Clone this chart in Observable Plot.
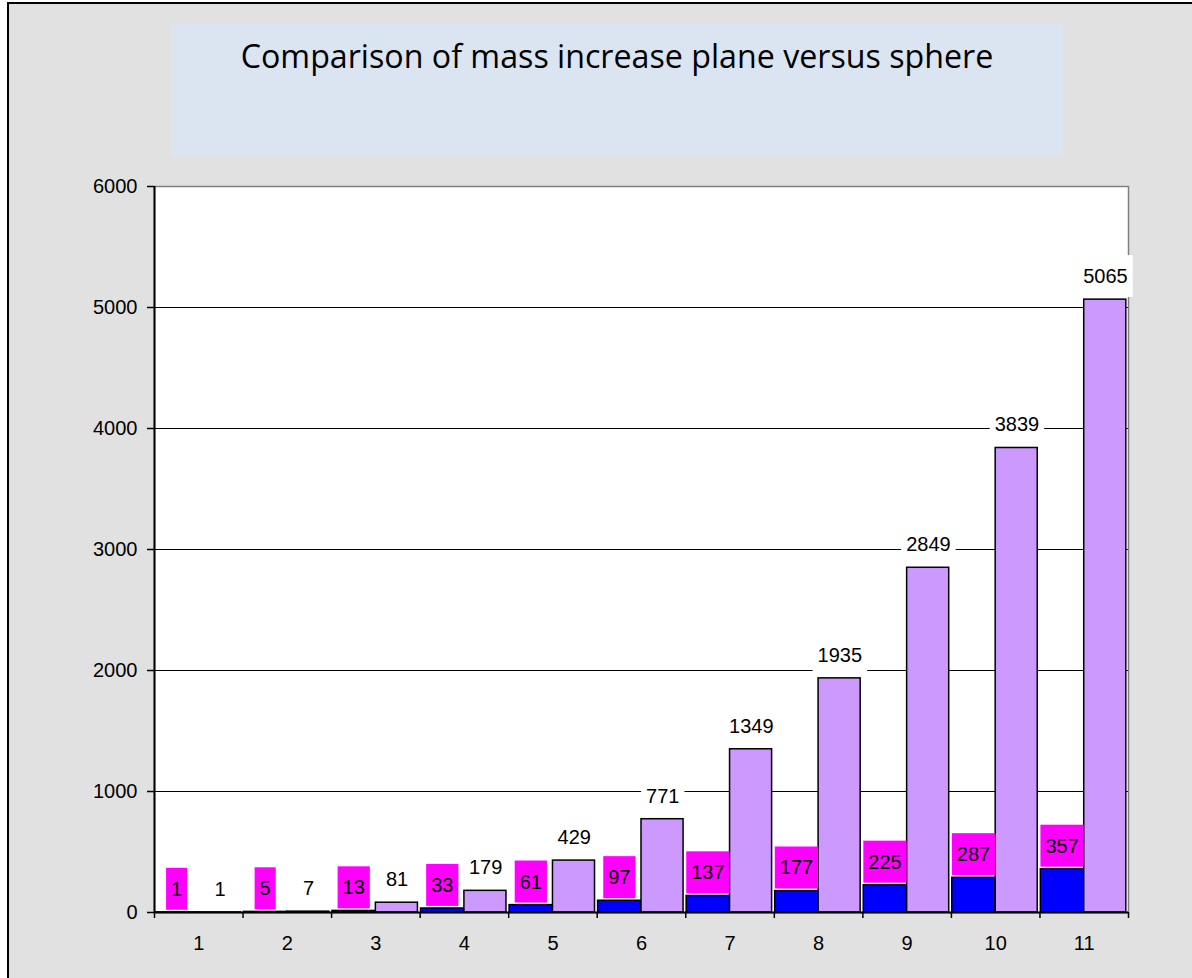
<!DOCTYPE html>
<html>
<head>
<meta charset="utf-8">
<script src="https://cdn.jsdelivr.net/npm/d3@7"></script>
<script src="https://cdn.jsdelivr.net/npm/@observablehq/plot@0.6"></script>
<style>
  body { margin: 0; background: #ffffff; }
  #page { position: relative; width: 1192px; height: 978px; overflow: hidden; }
  #panel {
    position: absolute; left: 7px; top: 2px; width: 1300px; height: 1100px;
    background: #e1e1e1; border-top: 2px solid #000; border-left: 2px solid #000;
  }
  #titlebox {
    position: absolute; left: 171px; top: 24px; width: 892px; height: 132px;
    background: #dbe5f1;
  }
  #title {
    position: absolute; left: 171px; top: 40px; width: 892px; text-align: center;
    font-family: "Open Sans", "Noto Sans", sans-serif; font-size: 32.2px; line-height: 32px;
    color: #000; white-space: nowrap;
  }
  #chart { position: absolute; left: 0; top: 0; }
</style>
</head>
<body>
<div id="page">
  <div id="panel"></div>
  <div id="titlebox"></div>
  <div id="title">Comparison of mass increase plane versus sphere</div>
  <div id="chart"></div>
</div>
<script>
// Step number and the mass reached by the plane and by the sphere
const categories = [1, 2, 3, 4, 5, 6, 7, 8, 9, 10, 11];
const plane = [1, 5, 13, 33, 61, 97, 137, 177, 225, 287, 357];
const sphere = [1, 7, 81, 179, 429, 771, 1349, 1935, 2849, 3839, 5065];
const yTicks = [0, 1000, 2000, 3000, 4000, 5000, 6000];

const rows = categories.map((c, i) => ({cat: c, plane: plane[i], sphere: sphere[i]}));
// band boundaries between the steps, where the x tick marks sit
const edges = [...categories.map(c => c - 0.5), categories[categories.length - 1] + 0.5];

const font = "'Liberation Sans', Arial, sans-serif";

const chart = Plot.plot({
  width: 1192,
  height: 978,
  marginLeft: 154,
  marginRight: 64,
  marginTop: 186,
  marginBottom: 66,
  style: {background: "transparent", fontFamily: font, fontSize: "20px", color: "#000"},
  x: {type: "linear", domain: [edges[0], edges[edges.length - 1]], axis: null},
  y: {domain: [0, 6000], axis: null},
  marks: [
    Plot.frame({fill: "#ffffff"}),
    Plot.ruleY(yTicks.filter(v => v > 0 && v < 6000), {stroke: "#000", strokeWidth: 1.2}),
    Plot.frame({stroke: "#808080", strokeWidth: 1.5}),
    Plot.rectY(rows, {x1: d => d.cat - 0.49, x2: d => d.cat, y: "plane",
      fill: "#0000ff", stroke: "#000", strokeWidth: 1.5}),
    Plot.rectY(rows, {x1: d => d.cat, x2: d => d.cat + 0.475, y: "sphere",
      fill: "#cc99ff", stroke: "#000", strokeWidth: 1.5}),
    Plot.ruleX([edges[0]], {stroke: "#000", strokeWidth: 2}),
    Plot.ruleY([0], {stroke: "#000", strokeWidth: 2}),
    Plot.axisY({ticks: yTicks, tickSize: 7, tickPadding: 10, fontSize: 20,
      tickFormat: d => String(d), stroke: "#000", strokeWidth: 1.5, fill: "#000"}),
    Plot.axisX({ticks: edges, tickSize: 6, tickFormat: () => "", stroke: "#000", strokeWidth: 1.5}),
    Plot.axisX({ticks: categories, tickSize: 0, tickPadding: 23, fontSize: 20,
      tickFormat: d => String(d), fill: "#000"}),
    Plot.text(rows, {x: d => d.cat - 0.25, y: "plane", text: d => String(d.plane),
      dy: -23, fontSize: 20, fill: "#000", ariaLabel: d => "plane " + d.plane}),
    Plot.text(rows, {x: d => d.cat + 0.24, y: "sphere", text: d => String(d.sphere),
      dy: -23, fontSize: 20, fill: "#000", ariaLabel: d => "sphere " + d.sphere})
  ]
});

document.getElementById("chart").appendChild(chart);

// Give each value label its filled box, drawn just behind the text
function boxLabels(prefix, fill) {
  chart.querySelectorAll(`text[aria-label^="${prefix} "]`).forEach(t => {
    const b = t.getBBox();
    const cy = b.y + b.height / 2;
    const r = document.createElementNS("http://www.w3.org/2000/svg", "rect");
    r.setAttribute("x", b.x - 5);
    r.setAttribute("width", b.width + 10);
    r.setAttribute("y", cy - 21);
    r.setAttribute("height", 42);
    r.setAttribute("fill", fill);
    r.setAttribute("stroke", "none");
    const tr = t.getAttribute("transform");
    if (tr) r.setAttribute("transform", tr);
    t.parentNode.insertBefore(r, t);
  });
}
boxLabels("plane", "#ff00ff");
boxLabels("sphere", "#ffffff");
</script>
</body>
</html>
